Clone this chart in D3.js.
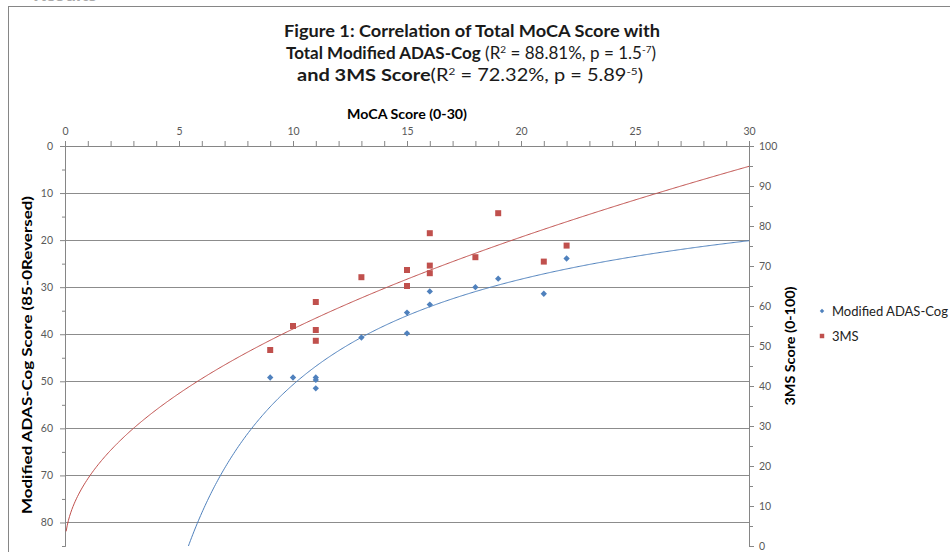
<!DOCTYPE html>
<html>
<head>
<meta charset="utf-8">
<script src="https://cdn.jsdelivr.net/npm/d3@7"></script>
<style>
  body { margin: 0; background: #fff; }
  svg { display: block; font-family: Lato, "Open Sans", sans-serif; }
</style>
</head>
<body>
<div id="chart"></div>
<script>
// MoCA score for each patient, with the matching scores
const mocaAdas = [9, 10, 11, 11, 11, 13, 15, 15, 16, 16, 18, 19, 21, 22];
const adasScores = [49.2, 49.2, 49.2, 49.7, 51.5, 40.7, 35.4, 39.8, 30.9, 33.7, 30.0, 28.2, 31.4, 23.9];

const moca3ms = [9, 10, 11, 11, 11, 13, 15, 15, 16, 16, 16, 18, 19, 21, 22];
const threeMsScores = [49, 55, 61, 54, 51.3, 67.2, 69, 65, 78.2, 70.1, 68.2, 72.2, 83.2, 71.1, 75.1];

const xTicks = [0, 5, 10, 15, 20, 25, 30];
const leftTicks = [0, 10, 20, 30, 40, 50, 60, 70, 80];
const rightTicks = [0, 10, 20, 30, 40, 50, 60, 70, 80, 90, 100];
const seriesNames = ["Modified ADAS-Cog", "3MS"];

const blue = "#4f81bd";
const red = "#c0504d";
const axisGray = "#868686";

const width = 950;
const height = 552;
const plot = { left: 65, right: 749, top: 146, bottom: 546 };

const svg = d3
  .select("#chart")
  .append("svg")
  .attr("width", width)
  .attr("height", height);

// bit of the page heading that sits above the chart
svg
  .append("text")
  .attr("x", 33)
  .attr("y", 1)
  .attr("font-size", 20)
  .attr("font-weight", "bold")
  .attr("fill", "#aaa")
  .text("Results");

// chart area border (runs off the right and bottom of the crop)
svg
  .append("rect")
  .attr("x", 8.5)
  .attr("y", 6.5)
  .attr("width", 1000)
  .attr("height", 600)
  .attr("fill", "#fff")
  .attr("stroke", axisGray);

const x = d3.scaleLinear().domain([0, 30]).range([plot.left, plot.right]);
const yLeft = d3.scaleLinear().domain([0, 85]).range([plot.top, plot.bottom]);
const yRight = d3.scaleLinear().domain([0, 100]).range([plot.bottom, plot.top]);

// gridlines
svg
  .append("g")
  .selectAll("line")
  .data(leftTicks.slice(1))
  .join("line")
  .attr("x1", plot.left)
  .attr("x2", plot.right)
  .attr("y1", (d) => Math.round(yLeft(d)) + 0.5)
  .attr("y2", (d) => Math.round(yLeft(d)) + 0.5)
  .attr("stroke", "#8c8c8c");

function styleAxis(g) {
  g.select(".domain").attr("stroke", axisGray);
  g.selectAll(".tick line").attr("stroke", axisGray);
  g.selectAll("text")
    .attr("fill", "#595959")
    .attr("font-family", "Lato, sans-serif")
    .attr("font-size", 10.5);
}

// top x axis, minor ticks every point
svg
  .append("g")
  .attr("transform", `translate(0,${plot.top})`)
  .call(d3.axisTop(x).tickValues(d3.range(0, 31, 1)).tickSize(5).tickFormat(""))
  .call(styleAxis);
svg
  .append("g")
  .attr("transform", `translate(0,${plot.top})`)
  .call(d3.axisTop(x).tickValues(xTicks).tickSize(5).tickPadding(6).tickSizeOuter(0))
  .call(styleAxis);

// left axis (reversed)
svg
  .append("g")
  .attr("transform", `translate(${plot.left},0)`)
  .call(d3.axisLeft(yLeft).tickValues(d3.range(5, 86, 10)).tickSize(3).tickFormat(""))
  .call(styleAxis);
svg
  .append("g")
  .attr("transform", `translate(${plot.left},0)`)
  .call(d3.axisLeft(yLeft).tickValues(leftTicks).tickSize(5).tickPadding(7).tickSizeOuter(0))
  .call(styleAxis);

// right axis
svg
  .append("g")
  .attr("transform", `translate(${plot.right},0)`)
  .call(d3.axisRight(yRight).tickValues(d3.range(5, 100, 10)).tickSize(4).tickFormat(""))
  .call(styleAxis);
svg
  .append("g")
  .attr("transform", `translate(${plot.right},0)`)
  .call(d3.axisRight(yRight).tickValues(rightTicks).tickSize(5).tickPadding(5).tickSizeOuter(0))
  .call(styleAxis);

// power trendlines, fitted to each series like Excel does
function powerFit(xs, ys) {
  const lx = xs.map(Math.log);
  const ly = ys.map(Math.log);
  const mx = d3.mean(lx);
  const my = d3.mean(ly);
  const b =
    d3.sum(lx, (v, i) => (v - mx) * (ly[i] - my)) / d3.sum(lx, (v) => (v - mx) ** 2);
  const a = Math.exp(my - b * mx);
  return (v) => a * Math.pow(v, b);
}

const adasFit = powerFit(mocaAdas, adasScores);
const msFit = powerFit(moca3ms, threeMsScores);
const curveX = d3.range(0.05, 30.0001, 0.05);

svg
  .append("clipPath")
  .attr("id", "plot-clip")
  .append("rect")
  .attr("x", plot.left)
  .attr("y", plot.top)
  .attr("width", plot.right - plot.left)
  .attr("height", plot.bottom - plot.top);

const trends = svg.append("g").attr("clip-path", "url(#plot-clip)");

trends
  .append("path")
  .datum(curveX)
  .attr("fill", "none")
  .attr("stroke", red)
  .attr("stroke-width", 1)
  .attr("d", d3.line().x((d) => x(d)).y((d) => yRight(msFit(d))));

trends
  .append("path")
  .datum(curveX)
  .attr("fill", "none")
  .attr("stroke", blue)
  .attr("stroke-width", 1)
  .attr("d", d3.line().x((d) => x(d)).y((d) => yLeft(Math.min(adasFit(d), 200))));

// markers
const diamond = d3.symbol(d3.symbolSquare, 20);
const square = d3.symbol(d3.symbolSquare, 36);

svg
  .append("g")
  .selectAll("path")
  .data(threeMsScores)
  .join("path")
  .attr("transform", (d, i) => `translate(${x(moca3ms[i])},${yRight(d)})`)
  .attr("d", square)
  .attr("fill", red);

svg
  .append("g")
  .selectAll("path")
  .data(adasScores)
  .join("path")
  .attr("transform", (d, i) => `translate(${x(mocaAdas[i])},${yLeft(d)}) rotate(45)`)
  .attr("d", diamond)
  .attr("fill", blue);

// titles
const title = svg.append("g").attr("text-anchor", "middle").attr("fill", "#1a1a1a");

title
  .append("text")
  .attr("x", 472)
  .attr("y", 37)
  .attr("font-size", 17)
  .attr("font-weight", "bold")
  .attr("textLength", 376)
  .attr("lengthAdjust", "spacingAndGlyphs")
  .text("Figure 1: Correlation of Total MoCA Score with");

const t2 = title
  .append("text")
  .attr("x", 471)
  .attr("y", 59)
  .attr("font-size", 17)
  .attr("textLength", 370)
  .attr("lengthAdjust", "spacingAndGlyphs");
t2.append("tspan").attr("font-weight", "bold").text("Total Modified ADAS-Cog");
t2.append("tspan").text(" (R");
t2.append("tspan").attr("font-size", 10).attr("dy", -6).text("2");
t2.append("tspan").attr("dy", 6).text(" = 88.81%, p = 1.5");
t2.append("tspan").attr("font-size", 10).attr("dy", -6).text("-7");
t2.append("tspan").attr("dy", 6).text(")");

const t3 = title
  .append("text")
  .attr("x", 470)
  .attr("y", 81)
  .attr("font-size", 17)
  .attr("textLength", 346)
  .attr("lengthAdjust", "spacingAndGlyphs");
t3.append("tspan").attr("font-weight", "bold").text("and 3MS Score");
t3.append("tspan").text("(R");
t3.append("tspan").attr("font-size", 10).attr("dy", -6).text("2");
t3.append("tspan").attr("dy", 6).text(" = 72.32%, p = 5.89");
t3.append("tspan").attr("font-size", 10).attr("dy", -6).text("-5");
t3.append("tspan").attr("dy", 6).text(")");

// axis titles
svg
  .append("text")
  .attr("x", (plot.left + plot.right) / 2)
  .attr("y", 119)
  .attr("text-anchor", "middle")
  .attr("font-size", 13.5)
  .attr("font-weight", "bold")
  .attr("textLength", 120)
  .attr("lengthAdjust", "spacingAndGlyphs")
  .text("MoCA Score (0-30)");

svg
  .append("text")
  .attr("transform", "translate(32,355) rotate(-90)")
  .attr("text-anchor", "middle")
  .attr("font-size", 14)
  .attr("font-weight", "bold")
  .attr("textLength", 318)
  .attr("lengthAdjust", "spacingAndGlyphs")
  .text("Modified ADAS-Cog Score (85-0Reversed)");

svg
  .append("text")
  .attr("transform", "translate(795,346) rotate(-90)")
  .attr("text-anchor", "middle")
  .attr("font-size", 14)
  .attr("font-weight", "bold")
  .attr("textLength", 119)
  .attr("lengthAdjust", "spacingAndGlyphs")
  .text("3MS Score (0-100)");

// legend
const legend = svg
  .append("g")
  .selectAll("g")
  .data(seriesNames)
  .join("g")
  .attr("transform", (d, i) => `translate(822,${311 + i * 25})`);

legend
  .append("path")
  .attr("d", (d, i) => (i === 0 ? d3.symbol(d3.symbolSquare, 10)() : d3.symbol(d3.symbolSquare, 20)()))
  .attr("transform", (d, i) => (i === 0 ? "rotate(45)" : null))
  .attr("fill", (d, i) => (i === 0 ? blue : red));

legend
  .append("text")
  .attr("x", 10)
  .attr("y", 5)
  .attr("font-size", 13)
  .attr("fill", "#222")
  .text((d) => d);
</script>
</body>
</html>
